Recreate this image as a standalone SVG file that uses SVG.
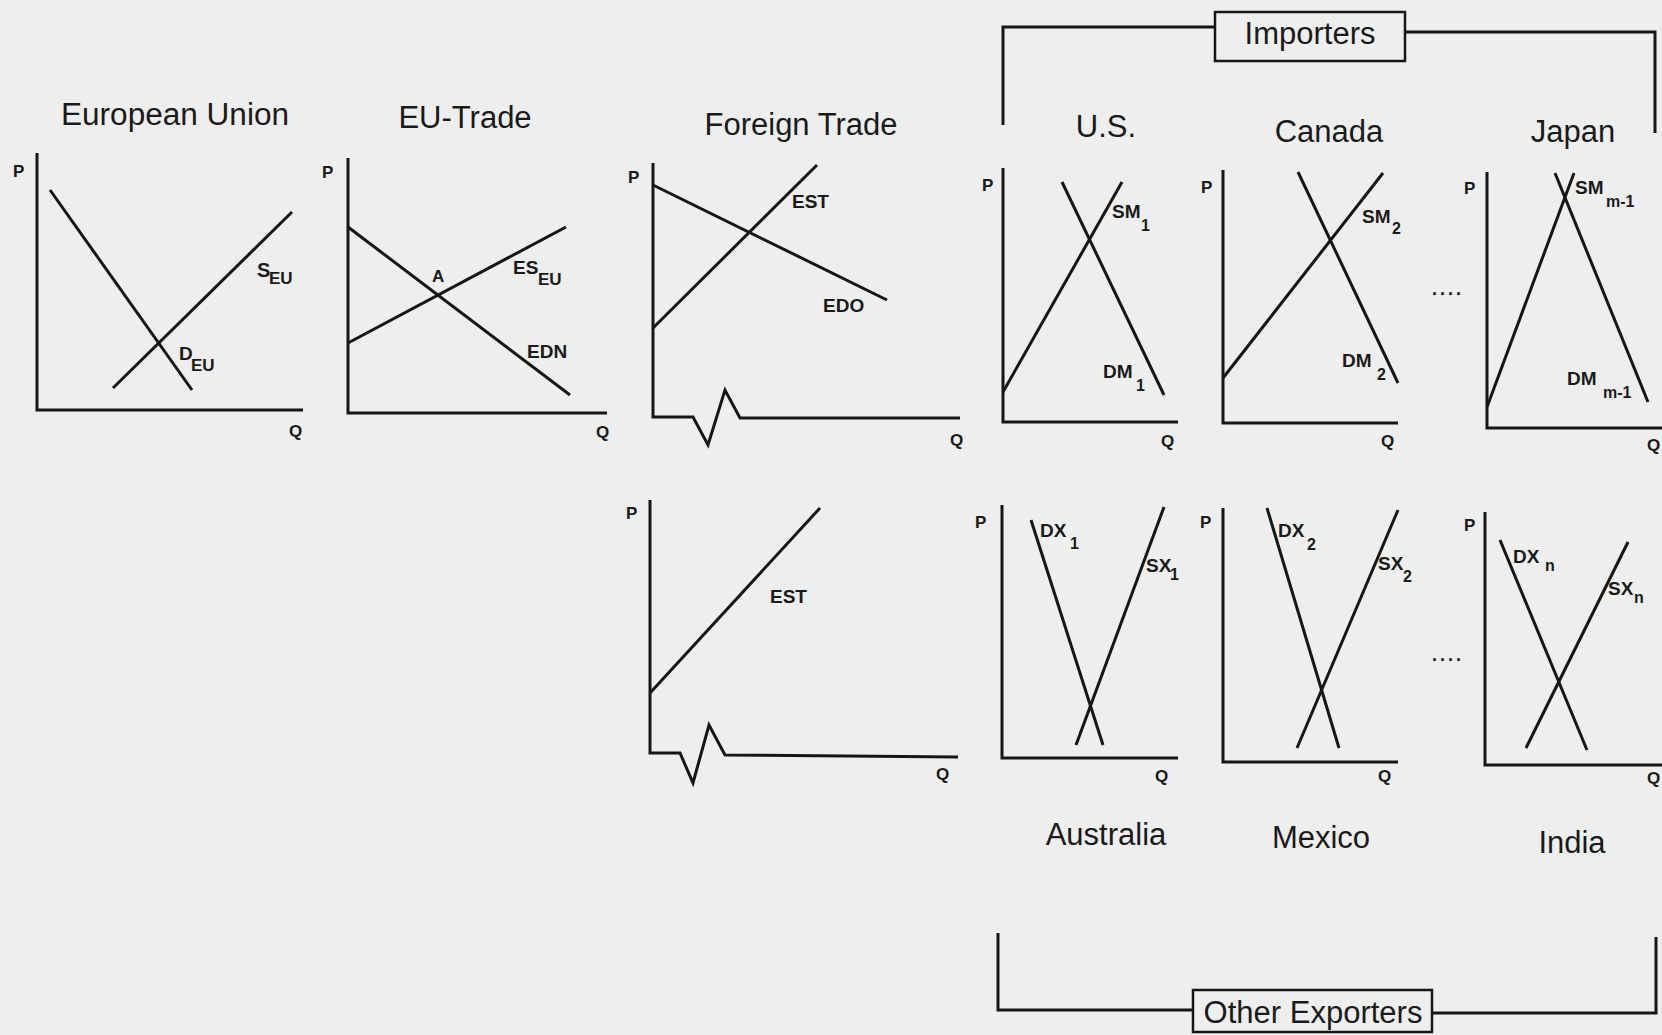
<svg xmlns="http://www.w3.org/2000/svg" width="1662" height="1035" viewBox="0 0 1662 1035">
<style>
.ln{fill:none;stroke:#161616;stroke-width:3;stroke-linejoin:miter}
.tt{font-family:"Liberation Sans",Arial,sans-serif;font-size:31px;fill:#1a1a1a;text-anchor:middle}
.ax{font-family:"Liberation Sans",Arial,sans-serif;font-size:17px;font-weight:bold;fill:#1a1a1a}
.lb{font-family:"Liberation Sans",Arial,sans-serif;font-size:19px;font-weight:bold;fill:#1a1a1a}
.sb{font-family:"Liberation Sans",Arial,sans-serif;font-size:16px;font-weight:bold;fill:#1a1a1a}
.dt{font-family:"Liberation Sans",Arial,sans-serif;font-size:18px;font-weight:bold;fill:#1a1a1a;letter-spacing:3px}
.bx{fill:none;stroke:#161616;stroke-width:2.5}
</style>
<rect width="1662" height="1035" fill="#eeeeee"/>

<g id="connectors">
  <polyline class="ln" points="1003,125 1003,27 1215,27"/>
  <polyline class="ln" points="1405,32 1655,32 1655,133"/>
  <polyline class="ln" points="998,933 998,1010 1193,1010"/>
  <polyline class="ln" points="1432,1013 1656,1013 1656,937"/>
</g>

<g id="importers">
  <rect class="bx" x="1215" y="12" width="190" height="49"/>
  <text class="tt" x="1310" y="44">Importers</text>
</g>

<g id="other-exporters">
  <rect class="bx" x="1193" y="990" width="239" height="42"/>
  <text class="tt" x="1313" y="1023">Other Exporters</text>
</g>

<g id="european-union">
  <text class="tt" x="175" y="125" textLength="228" lengthAdjust="spacingAndGlyphs">European Union</text>
  <text class="ax" x="13" y="177">P</text>
  <text class="ax" x="289" y="437">Q</text>
  <polyline class="ln" points="37,153 37,410 303,410"/>
  <line class="ln" x1="50" y1="190" x2="192" y2="390"/>
  <line class="ln" x1="113" y1="388" x2="292" y2="212"/>
  <text class="lb" x="257" y="277" style="font-size:20px">S</text>
  <text class="sb" x="269" y="284" style="font-size:17px">EU</text>
  <text class="lb" x="179" y="360">D</text>
  <text class="sb" x="191" y="371" style="font-size:17px">EU</text>
</g>

<g id="eu-trade">
  <text class="tt" x="465" y="128">EU-Trade</text>
  <text class="ax" x="322" y="178">P</text>
  <text class="ax" x="596" y="438">Q</text>
  <polyline class="ln" points="348,158 348,413 607,413"/>
  <line class="ln" x1="348" y1="227" x2="570" y2="395"/>
  <line class="ln" x1="348" y1="343" x2="566" y2="227"/>
  <text class="lb" x="432" y="282" style="font-size:17px">A</text>
  <text class="lb" x="513" y="274">ES</text>
  <text class="sb" x="538" y="285" style="font-size:17px">EU</text>
  <text class="lb" x="527" y="358">EDN</text>
</g>

<g id="foreign-trade-top">
  <text class="tt" x="801" y="135">Foreign Trade</text>
  <text class="ax" x="628" y="183">P</text>
  <text class="ax" x="950" y="446">Q</text>
  <polyline class="ln" points="653,163 653,417 693,417 708,445 725,390 740,418 960,418"/>
  <line class="ln" x1="653" y1="185" x2="887" y2="300"/>
  <line class="ln" x1="653" y1="328" x2="817" y2="165"/>
  <text class="lb" x="792" y="208">EST</text>
  <text class="lb" x="823" y="312">EDO</text>
</g>

<g id="foreign-trade-bottom">
  <text class="ax" x="626" y="519">P</text>
  <text class="ax" x="936" y="780">Q</text>
  <polyline class="ln" points="650,500 650,753 680,753 693,783 709,725 725,755 958,757"/>
  <line class="ln" x1="650" y1="693" x2="820" y2="508"/>
  <text class="lb" x="770" y="603">EST</text>
</g>

<g id="us">
  <text class="tt" x="1106" y="137">U.S.</text>
  <text class="ax" x="982" y="191">P</text>
  <text class="ax" x="1161" y="447">Q</text>
  <polyline class="ln" points="1003,168 1003,422 1178,422"/>
  <line class="ln" x1="1062" y1="182" x2="1164" y2="395"/>
  <line class="ln" x1="1003" y1="392" x2="1122" y2="182"/>
  <text class="lb" x="1112" y="218">SM</text>
  <text class="sb" x="1141" y="231">1</text>
  <text class="lb" x="1103" y="378">DM</text>
  <text class="sb" x="1136" y="391">1</text>
</g>

<g id="canada">
  <text class="tt" x="1329" y="142">Canada</text>
  <text class="ax" x="1201" y="193">P</text>
  <text class="ax" x="1381" y="447">Q</text>
  <polyline class="ln" points="1223,170 1223,423 1398,423"/>
  <line class="ln" x1="1298" y1="172" x2="1398" y2="383"/>
  <line class="ln" x1="1223" y1="378" x2="1383" y2="173"/>
  <text class="lb" x="1362" y="223">SM</text>
  <text class="sb" x="1392" y="234">2</text>
  <text class="lb" x="1342" y="367">DM</text>
  <text class="sb" x="1377" y="380">2</text>
</g>

<g id="japan">
  <text class="tt" x="1573" y="142">Japan</text>
  <text class="dt" x="1432" y="295">....</text>
  <text class="ax" x="1464" y="194">P</text>
  <text class="ax" x="1647" y="451">Q</text>
  <polyline class="ln" points="1487,172 1487,428 1662,428"/>
  <line class="ln" x1="1555" y1="173" x2="1648" y2="402"/>
  <line class="ln" x1="1487" y1="407" x2="1574" y2="173"/>
  <text class="lb" x="1575" y="194">SM</text>
  <text class="sb" x="1606" y="207">m-1</text>
  <text class="lb" x="1567" y="385">DM</text>
  <text class="sb" x="1603" y="398">m-1</text>
</g>

<g id="australia">
  <text class="tt" x="1106" y="845">Australia</text>
  <text class="ax" x="975" y="528">P</text>
  <text class="ax" x="1155" y="782">Q</text>
  <polyline class="ln" points="1002,505 1002,758 1178,758"/>
  <line class="ln" x1="1031" y1="520" x2="1103" y2="745"/>
  <line class="ln" x1="1076" y1="745" x2="1164" y2="507"/>
  <text class="lb" x="1040" y="537">DX</text>
  <text class="sb" x="1070" y="549">1</text>
  <text class="lb" x="1146" y="572">SX</text>
  <text class="sb" x="1170" y="580">1</text>
</g>

<g id="mexico">
  <text class="tt" x="1321" y="848">Mexico</text>
  <text class="ax" x="1200" y="528">P</text>
  <text class="ax" x="1378" y="782">Q</text>
  <polyline class="ln" points="1223,508 1223,762 1398,762"/>
  <line class="ln" x1="1267" y1="508" x2="1339" y2="748"/>
  <line class="ln" x1="1297" y1="748" x2="1398" y2="510"/>
  <text class="lb" x="1278" y="537">DX</text>
  <text class="sb" x="1307" y="550">2</text>
  <text class="lb" x="1378" y="570">SX</text>
  <text class="sb" x="1403" y="582">2</text>
</g>

<g id="india">
  <text class="tt" x="1572" y="853">India</text>
  <text class="dt" x="1432" y="661">....</text>
  <text class="ax" x="1464" y="531">P</text>
  <text class="ax" x="1647" y="784">Q</text>
  <polyline class="ln" points="1485,512 1485,765 1662,765"/>
  <line class="ln" x1="1500" y1="540" x2="1587" y2="750"/>
  <line class="ln" x1="1526" y1="748" x2="1628" y2="542"/>
  <text class="lb" x="1513" y="563">DX</text>
  <text class="sb" x="1545" y="571">n</text>
  <text class="lb" x="1608" y="595">SX</text>
  <text class="sb" x="1634" y="603">n</text>
</g>
</svg>
